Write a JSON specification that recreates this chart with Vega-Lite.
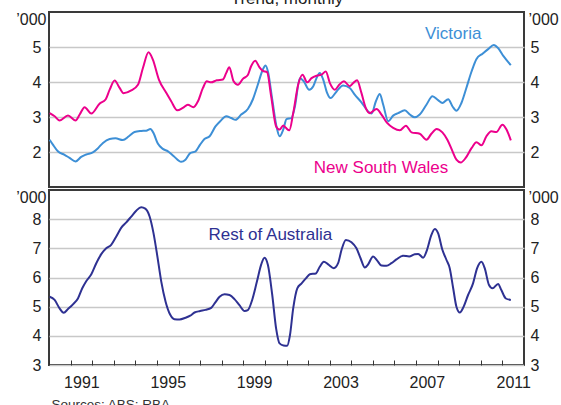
{
  "$schema": "https://vega.github.io/schema/vega-lite/v6.json",
  "padding": {"left": 14, "top": -10, "right": 0, "bottom": 0},
  "title": {"text": "Trend, monthly", "fontSize": 17, "fontWeight": "normal", "color": "#222222", "baseline": "alphabetic", "offset": -11, "anchor": "middle"},
  "config": {
    "font": "Liberation Sans",
    "view": {"stroke": "#3a3a3a", "strokeWidth": 2},
    "axis": {"labelFont": "Liberation Sans", "titleFont": "Liberation Sans", "labelColor": "#222222", "titleColor": "#222222", "labelFontSize": 16, "titleFontSize": 16, "titleFontWeight": "normal"}
  },
  "spacing": 0,
  "datasets": {
    "vic": [
      {"year": 1990.03, "value": 2.35}, {"year": 1990.18, "value": 2.21}, {"year": 1990.41, "value": 2.02}, {"year": 1990.72, "value": 1.92},
      {"year": 1990.95, "value": 1.83}, {"year": 1991.23, "value": 1.73}, {"year": 1991.49, "value": 1.86}, {"year": 1991.73, "value": 1.93},
      {"year": 1992.03, "value": 1.99}, {"year": 1992.27, "value": 2.11}, {"year": 1992.5, "value": 2.26}, {"year": 1992.81, "value": 2.37},
      {"year": 1993.08, "value": 2.39}, {"year": 1993.42, "value": 2.34}, {"year": 1993.7, "value": 2.45}, {"year": 1993.96, "value": 2.57},
      {"year": 1994.27, "value": 2.6}, {"year": 1994.5, "value": 2.61}, {"year": 1994.7, "value": 2.66}, {"year": 1994.84, "value": 2.54},
      {"year": 1995.04, "value": 2.24}, {"year": 1995.27, "value": 2.09}, {"year": 1995.51, "value": 2.02}, {"year": 1995.78, "value": 1.88},
      {"year": 1996.12, "value": 1.72}, {"year": 1996.32, "value": 1.78}, {"year": 1996.54, "value": 1.97}, {"year": 1996.79, "value": 2.02},
      {"year": 1997.0, "value": 2.21}, {"year": 1997.2, "value": 2.37}, {"year": 1997.44, "value": 2.45}, {"year": 1997.71, "value": 2.73},
      {"year": 1997.93, "value": 2.88}, {"year": 1998.21, "value": 3.02}, {"year": 1998.44, "value": 2.97}, {"year": 1998.64, "value": 2.92},
      {"year": 1998.9, "value": 3.07}, {"year": 1999.21, "value": 3.23}, {"year": 1999.44, "value": 3.5}, {"year": 1999.67, "value": 3.92},
      {"year": 1999.9, "value": 4.35}, {"year": 2000.03, "value": 4.47}, {"year": 2000.14, "value": 4.3}, {"year": 2000.34, "value": 3.5},
      {"year": 2000.55, "value": 2.69}, {"year": 2000.68, "value": 2.45}, {"year": 2000.86, "value": 2.66}, {"year": 2001.0, "value": 2.94},
      {"year": 2001.23, "value": 2.97}, {"year": 2001.39, "value": 3.3}, {"year": 2001.62, "value": 4.11}, {"year": 2001.8, "value": 4.02},
      {"year": 2002.05, "value": 3.78}, {"year": 2002.24, "value": 3.88}, {"year": 2002.39, "value": 4.11}, {"year": 2002.54, "value": 4.26},
      {"year": 2002.7, "value": 4.07}, {"year": 2002.88, "value": 3.69}, {"year": 2003.04, "value": 3.54}, {"year": 2003.32, "value": 3.73},
      {"year": 2003.62, "value": 3.9}, {"year": 2003.93, "value": 3.83}, {"year": 2004.16, "value": 3.64}, {"year": 2004.47, "value": 3.42},
      {"year": 2004.78, "value": 3.16}, {"year": 2004.94, "value": 3.1}, {"year": 2005.14, "value": 3.45}, {"year": 2005.32, "value": 3.66},
      {"year": 2005.48, "value": 3.35}, {"year": 2005.71, "value": 2.88}, {"year": 2005.94, "value": 3.04}, {"year": 2006.17, "value": 3.11},
      {"year": 2006.48, "value": 3.19}, {"year": 2006.71, "value": 3.07}, {"year": 2006.94, "value": 2.99}, {"year": 2007.17, "value": 3.07},
      {"year": 2007.48, "value": 3.35}, {"year": 2007.76, "value": 3.59}, {"year": 2008.02, "value": 3.48}, {"year": 2008.22, "value": 3.4},
      {"year": 2008.49, "value": 3.51}, {"year": 2008.69, "value": 3.3}, {"year": 2008.87, "value": 3.18}, {"year": 2009.1, "value": 3.4},
      {"year": 2009.33, "value": 3.83}, {"year": 2009.57, "value": 4.3}, {"year": 2009.8, "value": 4.66}, {"year": 2010.08, "value": 4.81},
      {"year": 2010.34, "value": 4.94}, {"year": 2010.6, "value": 5.06}, {"year": 2010.8, "value": 4.97}, {"year": 2011.06, "value": 4.73},
      {"year": 2011.39, "value": 4.48}
    ],
    "nsw": [
      {"year": 1990.03, "value": 3.11}, {"year": 1990.26, "value": 3.02}, {"year": 1990.49, "value": 2.9}, {"year": 1990.88, "value": 3.04},
      {"year": 1991.23, "value": 2.9}, {"year": 1991.42, "value": 3.07}, {"year": 1991.65, "value": 3.28}, {"year": 1991.96, "value": 3.1},
      {"year": 1992.34, "value": 3.38}, {"year": 1992.62, "value": 3.5}, {"year": 1992.81, "value": 3.78}, {"year": 1993.04, "value": 4.04},
      {"year": 1993.27, "value": 3.83}, {"year": 1993.45, "value": 3.68}, {"year": 1993.81, "value": 3.76}, {"year": 1994.12, "value": 3.92},
      {"year": 1994.35, "value": 4.4}, {"year": 1994.61, "value": 4.85}, {"year": 1994.81, "value": 4.64}, {"year": 1995.09, "value": 4.07},
      {"year": 1995.43, "value": 3.69}, {"year": 1995.66, "value": 3.45}, {"year": 1995.94, "value": 3.19}, {"year": 1996.2, "value": 3.26},
      {"year": 1996.43, "value": 3.35}, {"year": 1996.69, "value": 3.28}, {"year": 1996.9, "value": 3.45}, {"year": 1997.13, "value": 3.83},
      {"year": 1997.31, "value": 4.02}, {"year": 1997.51, "value": 3.99}, {"year": 1997.77, "value": 4.05}, {"year": 1998.05, "value": 4.07},
      {"year": 1998.21, "value": 4.26}, {"year": 1998.35, "value": 4.42}, {"year": 1998.55, "value": 4.02}, {"year": 1998.75, "value": 3.92},
      {"year": 1998.98, "value": 4.09}, {"year": 1999.21, "value": 4.2}, {"year": 1999.36, "value": 4.45}, {"year": 1999.55, "value": 4.61},
      {"year": 1999.75, "value": 4.42}, {"year": 1999.9, "value": 4.32}, {"year": 2000.1, "value": 4.28}, {"year": 2000.29, "value": 3.59},
      {"year": 2000.52, "value": 2.73}, {"year": 2000.68, "value": 2.64}, {"year": 2000.85, "value": 2.76}, {"year": 2000.97, "value": 2.69},
      {"year": 2001.13, "value": 2.62}, {"year": 2001.31, "value": 3.11}, {"year": 2001.54, "value": 3.92}, {"year": 2001.74, "value": 4.21},
      {"year": 2001.96, "value": 3.99}, {"year": 2002.16, "value": 4.11}, {"year": 2002.39, "value": 4.18}, {"year": 2002.62, "value": 4.21},
      {"year": 2002.82, "value": 4.3}, {"year": 2003.01, "value": 3.97}, {"year": 2003.24, "value": 3.78}, {"year": 2003.44, "value": 3.92},
      {"year": 2003.66, "value": 4.02}, {"year": 2003.93, "value": 3.88}, {"year": 2004.09, "value": 3.97}, {"year": 2004.27, "value": 4.05},
      {"year": 2004.47, "value": 3.69}, {"year": 2004.67, "value": 3.26}, {"year": 2004.86, "value": 3.11}, {"year": 2005.17, "value": 3.23},
      {"year": 2005.4, "value": 3.07}, {"year": 2005.66, "value": 2.83}, {"year": 2005.94, "value": 2.69}, {"year": 2006.25, "value": 2.62},
      {"year": 2006.53, "value": 2.75}, {"year": 2006.79, "value": 2.56}, {"year": 2007.17, "value": 2.52}, {"year": 2007.48, "value": 2.35},
      {"year": 2007.71, "value": 2.52}, {"year": 2007.95, "value": 2.66}, {"year": 2008.22, "value": 2.56}, {"year": 2008.45, "value": 2.35},
      {"year": 2008.69, "value": 2.02}, {"year": 2008.87, "value": 1.78}, {"year": 2009.07, "value": 1.7}, {"year": 2009.3, "value": 1.83},
      {"year": 2009.57, "value": 2.11}, {"year": 2009.8, "value": 2.28}, {"year": 2010.03, "value": 2.19}, {"year": 2010.26, "value": 2.45},
      {"year": 2010.49, "value": 2.59}, {"year": 2010.72, "value": 2.57}, {"year": 2011.0, "value": 2.78}, {"year": 2011.19, "value": 2.64},
      {"year": 2011.39, "value": 2.33}
    ],
    "rest": [
      {"year": 1990.03, "value": 5.34}, {"year": 1990.26, "value": 5.23}, {"year": 1990.49, "value": 4.94}, {"year": 1990.68, "value": 4.79},
      {"year": 1990.88, "value": 4.92}, {"year": 1991.11, "value": 5.08}, {"year": 1991.34, "value": 5.28}, {"year": 1991.54, "value": 5.63},
      {"year": 1991.73, "value": 5.88}, {"year": 1991.96, "value": 6.11}, {"year": 1992.19, "value": 6.49}, {"year": 1992.42, "value": 6.8},
      {"year": 1992.65, "value": 7.0}, {"year": 1992.88, "value": 7.12}, {"year": 1993.11, "value": 7.4}, {"year": 1993.35, "value": 7.71},
      {"year": 1993.58, "value": 7.89}, {"year": 1993.81, "value": 8.09}, {"year": 1994.04, "value": 8.29}, {"year": 1994.27, "value": 8.41},
      {"year": 1994.46, "value": 8.36}, {"year": 1994.66, "value": 8.09}, {"year": 1994.84, "value": 7.52}, {"year": 1995.01, "value": 6.77},
      {"year": 1995.2, "value": 5.86}, {"year": 1995.4, "value": 5.17}, {"year": 1995.61, "value": 4.73}, {"year": 1995.81, "value": 4.57},
      {"year": 1996.05, "value": 4.56}, {"year": 1996.32, "value": 4.62}, {"year": 1996.54, "value": 4.69}, {"year": 1996.74, "value": 4.8},
      {"year": 1997.0, "value": 4.85}, {"year": 1997.25, "value": 4.89}, {"year": 1997.51, "value": 4.96}, {"year": 1997.67, "value": 5.11},
      {"year": 1997.9, "value": 5.34}, {"year": 1998.13, "value": 5.43}, {"year": 1998.36, "value": 5.4}, {"year": 1998.59, "value": 5.26},
      {"year": 1998.82, "value": 5.05}, {"year": 1999.06, "value": 4.85}, {"year": 1999.21, "value": 4.88}, {"year": 1999.41, "value": 5.23},
      {"year": 1999.63, "value": 5.86}, {"year": 1999.83, "value": 6.45}, {"year": 1999.98, "value": 6.68}, {"year": 2000.14, "value": 6.43},
      {"year": 2000.34, "value": 5.4}, {"year": 2000.52, "value": 4.25}, {"year": 2000.68, "value": 3.74}, {"year": 2000.86, "value": 3.67},
      {"year": 2001.03, "value": 3.66}, {"year": 2001.16, "value": 4.02}, {"year": 2001.31, "value": 4.94}, {"year": 2001.5, "value": 5.63},
      {"year": 2001.7, "value": 5.8}, {"year": 2001.9, "value": 5.97}, {"year": 2002.08, "value": 6.11}, {"year": 2002.36, "value": 6.14},
      {"year": 2002.54, "value": 6.37}, {"year": 2002.73, "value": 6.54}, {"year": 2002.93, "value": 6.45}, {"year": 2003.19, "value": 6.32},
      {"year": 2003.39, "value": 6.49}, {"year": 2003.55, "value": 6.95}, {"year": 2003.75, "value": 7.29}, {"year": 2004.01, "value": 7.21},
      {"year": 2004.24, "value": 7.0}, {"year": 2004.43, "value": 6.66}, {"year": 2004.63, "value": 6.34}, {"year": 2004.78, "value": 6.45},
      {"year": 2005.01, "value": 6.72}, {"year": 2005.21, "value": 6.57}, {"year": 2005.4, "value": 6.41}, {"year": 2005.63, "value": 6.4},
      {"year": 2005.86, "value": 6.49}, {"year": 2006.09, "value": 6.62}, {"year": 2006.4, "value": 6.75}, {"year": 2006.68, "value": 6.72},
      {"year": 2006.94, "value": 6.8}, {"year": 2007.1, "value": 6.81}, {"year": 2007.33, "value": 6.68}, {"year": 2007.51, "value": 6.95},
      {"year": 2007.71, "value": 7.46}, {"year": 2007.87, "value": 7.66}, {"year": 2008.02, "value": 7.52}, {"year": 2008.22, "value": 6.95},
      {"year": 2008.41, "value": 6.6}, {"year": 2008.56, "value": 6.32}, {"year": 2008.72, "value": 5.63}, {"year": 2008.87, "value": 5.0},
      {"year": 2009.03, "value": 4.8}, {"year": 2009.18, "value": 4.96}, {"year": 2009.41, "value": 5.4}, {"year": 2009.64, "value": 5.8},
      {"year": 2009.83, "value": 6.32}, {"year": 2010.03, "value": 6.54}, {"year": 2010.18, "value": 6.32}, {"year": 2010.38, "value": 5.74},
      {"year": 2010.54, "value": 5.63}, {"year": 2010.8, "value": 5.78}, {"year": 2010.95, "value": 5.57}, {"year": 2011.16, "value": 5.28},
      {"year": 2011.39, "value": 5.23}
    ]
  },
  "vconcat": [
    {
      "width": 475,
      "height": 175,
      "layer": [
        {
          "data": {"name": "vic"},
          "mark": {"type": "line", "color": "#3d8fd6", "strokeWidth": 2, "interpolate": "monotone"},
          "encoding": {
            "x": {"field": "year", "type": "quantitative", "scale": {"domain": [1990, 2012], "nice": false, "zero": false}, "axis": null},
            "y": {"field": "value", "type": "quantitative", "scale": {"domain": [1, 6], "nice": false, "zero": false},
              "axis": {"orient": "left", "values": [2, 3, 4, 5], "grid": true, "gridColor": "#c8c8c8", "gridWidth": 1.5, "ticks": false, "domain": false, "labelPadding": 8, "title": "’000", "titleAngle": 0, "titleAlign": "right", "titleBaseline": "middle", "titleX": -3, "titleY": 7}}
          }
        },
        {
          "data": {"name": "nsw"},
          "mark": {"type": "line", "color": "#ec008c", "strokeWidth": 2, "interpolate": "monotone"},
          "encoding": {
            "x": {"field": "year", "type": "quantitative", "scale": {"domain": [1990, 2012], "nice": false, "zero": false}, "axis": null},
            "y": {"field": "value", "type": "quantitative", "scale": {"domain": [1, 6], "nice": false, "zero": false},
              "axis": {"orient": "right", "values": [2, 3, 4, 5], "grid": false, "ticks": false, "domain": false, "labelPadding": 6, "title": "’000", "titleAngle": 0, "titleAlign": "left", "titleBaseline": "middle", "titleX": 4, "titleY": 7}}
          }
        },
        {
          "data": {"values": [{}]},
          "mark": {"type": "text", "color": "#3d8fd6", "fontSize": 17, "align": "center", "baseline": "middle"},
          "encoding": {
            "x": {"datum": 2008.72, "type": "quantitative", "scale": {"domain": [1990, 2012], "nice": false, "zero": false}, "axis": null},
            "y": {"datum": 5.38, "type": "quantitative", "scale": {"domain": [1, 6], "nice": false, "zero": false}, "axis": null},
            "text": {"value": "Victoria"}
          }
        },
        {
          "data": {"values": [{}]},
          "mark": {"type": "text", "color": "#ec008c", "fontSize": 17, "align": "center", "baseline": "middle"},
          "encoding": {
            "x": {"datum": 2005.38, "type": "quantitative", "scale": {"domain": [1990, 2012], "nice": false, "zero": false}, "axis": null},
            "y": {"datum": 1.54, "type": "quantitative", "scale": {"domain": [1, 6], "nice": false, "zero": false}, "axis": null},
            "text": {"value": "New South Wales"}
          }
        }
      ],
      "resolve": {"axis": {"y": "independent"}}
    },
    {
      "width": 475,
      "height": 175,
      "layer": [
        {
          "data": {"name": "rest"},
          "mark": {"type": "line", "color": "#2e3192", "strokeWidth": 2, "interpolate": "monotone"},
          "encoding": {
            "x": {"field": "year", "type": "quantitative", "scale": {"domain": [1990, 2012], "nice": false, "zero": false},
              "axis": {"values": [1990, 1991, 1992, 1993, 1994, 1995, 1996, 1997, 1998, 1999, 2000, 2001, 2002, 2003, 2004, 2005, 2006, 2007, 2008, 2009, 2010, 2011, 2012],
                "tickSize": -5, "tickColor": "#333333", "tickWidth": 1, "domain": false, "grid": false,
                "labelExpr": "(datum.value % 4 == 3 && datum.value < 2012) ? (datum.value + '') : ''",
                "labelOffset": 10.8, "labelPadding": 14, "labelFlush": false, "labelOverlap": false,
                "title": "Sources: ABS; RBA", "titleAnchor": "start", "titleAlign": "left", "titleBaseline": "alphabetic", "titleX": 2, "titleY": 43, "titleFontSize": 13.5, "titleColor": "#333333"}},
            "y": {"field": "value", "type": "quantitative", "scale": {"domain": [3, 9], "nice": false, "zero": false},
              "axis": {"orient": "left", "values": [3, 4, 5, 6, 7, 8], "grid": true, "gridColor": "#c8c8c8", "gridWidth": 1.5, "ticks": false, "domain": false, "labelPadding": 8, "title": "’000", "titleAngle": 0, "titleAlign": "right", "titleBaseline": "middle", "titleX": -3, "titleY": 7}}
          }
        },
        {
          "data": {"values": [{}]},
          "mark": {"type": "text", "color": "#2e3192", "fontSize": 17, "align": "center", "baseline": "middle"},
          "encoding": {
            "x": {"datum": 2000.25, "type": "quantitative", "scale": {"domain": [1990, 2012], "nice": false, "zero": false},
              "axis": {"values": [1990, 1991, 1992, 1993, 1994, 1995, 1996, 1997, 1998, 1999, 2000, 2001, 2002, 2003, 2004, 2005, 2006, 2007, 2008, 2009, 2010, 2011, 2012],
                "tickSize": -5, "tickColor": "#333333", "tickWidth": 1, "domain": false, "grid": false,
                "labelExpr": "(datum.value % 4 == 3 && datum.value < 2012) ? (datum.value + '') : ''",
                "labelOffset": 10.8, "labelPadding": 14, "labelFlush": false, "labelOverlap": false,
                "title": "Sources: ABS; RBA", "titleAnchor": "start", "titleAlign": "left", "titleBaseline": "alphabetic", "titleX": 2, "titleY": 43, "titleFontSize": 13.5, "titleColor": "#333333"}},
            "y": {"datum": 7.45, "type": "quantitative", "scale": {"domain": [3, 9], "nice": false, "zero": false},
              "axis": {"orient": "right", "values": [3, 4, 5, 6, 7, 8], "grid": false, "ticks": false, "domain": false, "labelPadding": 6, "title": "’000", "titleAngle": 0, "titleAlign": "left", "titleBaseline": "middle", "titleX": 4, "titleY": 7}},
            "text": {"value": "Rest of Australia"}
          }
        }
      ],
      "resolve": {"axis": {"y": "independent"}}
    }
  ]
}
